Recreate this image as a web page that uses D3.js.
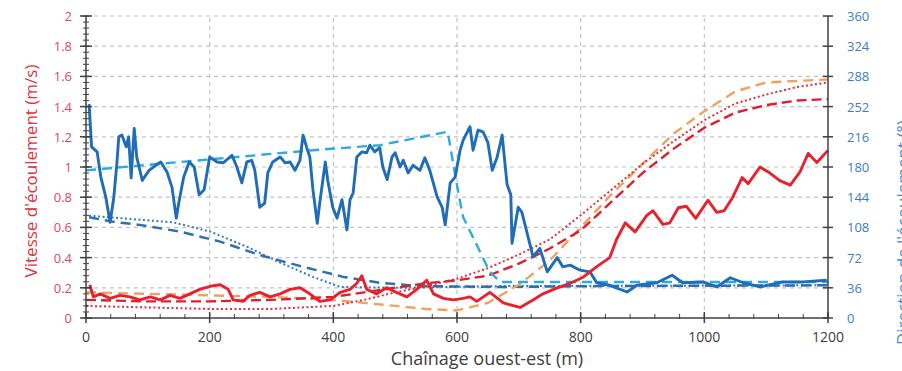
<!DOCTYPE html>
<html><head><meta charset="utf-8">
<script src="https://cdn.jsdelivr.net/npm/d3@7"></script>
<style>body{margin:0;background:#fff}svg{display:block}</style>
</head><body>
<svg id="c" width="902" height="371"></svg>
<script>
// ---- data ----
const xTicks = [0, 200, 400, 600, 800, 1000, 1200];
const yLeftTicks = [0, 0.2, 0.4, 0.6, 0.8, 1, 1.2, 1.4, 1.6, 1.8, 2];
const yRightTicks = [0, 36, 72, 108, 144, 180, 216, 252, 288, 324, 360];

// measured direction (deg, right axis)
const dirMeasX = [5,9,18,24,32,39,45,50,53,58,65,69,73,78,82,91,102,113,121,131,139,146,150,158,167,175,183,191,200,212,222,236,244,252,260,268,273,281,289,294,302,314,322,330,338,346,351,357,362,367,374,378,387,391,399,406,414,422,427,432,438,446,454,459,467,475,480,487,495,500,508,513,521,529,540,548,556,568,576,581,589,597,605,610,621,626,634,642,650,657,665,673,681,687,689,699,705,723,734,746,762,771,783,799,815,826,847,875,891,923,948,965,998,1020,1042,1063,1090,1127,1160,1198];
const dirMeasY = [255,204,198,168,144,114,144,185,216,218,204,216,167,226,192,164,176,182,186,174,156,119,137,168,186,180,147,153,192,186,185,194,180,161,186,188,176,132,137,173,186,192,185,186,176,188,218,203,192,153,113,137,186,164,132,119,141,105,141,149,192,198,197,206,198,203,180,165,192,197,180,188,173,182,176,191,176,144,132,111,161,168,200,212,228,200,224,222,209,176,192,218,159,147,89,132,126,73,83,55,72,61,63,57,55,42,39,31,39,42,51,42,43,37,48,42,37,43,43,45];

// modelled direction (deg, right axis)
const dirModelX = [0,367,475,585,592,602,610,630,653,670,1200];
const dirModelY = [176,200,206,222,192,150,120,90,55,43,43];
const dirDashX = [5,50,87,152,217,281,341,416,475,540,670,831,1200];
const dirDashY = [120,114,111,103,91,75,63,49,42,38,37,38,39];
const dirDotX = [5,141,201,260,314,367,411,508,670,1200];
const dirDotY = [122,114,103,85,66,49,37,36,38,39];

// measured velocity (m/s, left axis)
const velMeasX = [6,12,23,39,55,71,87,104,120,136,152,168,184,201,217,230,238,254,265,281,298,314,330,346,362,378,395,411,427,438,446,454,470,486,502,519,535,551,562,578,594,610,621,632,653,675,702,723,739,762,783,804,826,847,858,872,888,907,917,933,944,958,971,986,1006,1020,1032,1046,1061,1071,1090,1106,1122,1139,1155,1168,1182,1200];
const velMeasY = [0.22,0.14,0.16,0.13,0.15,0.14,0.12,0.14,0.12,0.15,0.13,0.16,0.19,0.21,0.22,0.19,0.12,0.11,0.15,0.17,0.14,0.16,0.19,0.20,0.16,0.11,0.12,0.17,0.19,0.23,0.28,0.19,0.16,0.20,0.17,0.14,0.19,0.25,0.16,0.13,0.12,0.13,0.14,0.11,0.17,0.10,0.07,0.12,0.16,0.20,0.23,0.27,0.34,0.40,0.52,0.63,0.57,0.68,0.71,0.62,0.63,0.73,0.74,0.66,0.78,0.70,0.71,0.80,0.93,0.89,1.00,0.96,0.91,0.88,0.97,1.09,1.03,1.11];

// modelled velocities (m/s, left axis)
const velModelX = [0,100,200,300,400,450,500,550,600,650,700,750,800,850,900,950,1000,1050,1100,1150,1200];
const velDashY = [0.12,0.11,0.11,0.12,0.14,0.17,0.20,0.23,0.25,0.28,0.36,0.46,0.58,0.77,0.96,1.12,1.26,1.36,1.41,1.44,1.45];
const velDotY  = [0.08,0.07,0.06,0.06,0.08,0.12,0.17,0.21,0.26,0.33,0.42,0.52,0.68,0.85,1.02,1.17,1.31,1.42,1.48,1.53,1.56];
const velOrangeY = [0.17,0.16,0.15,0.14,0.12,0.10,0.08,0.06,0.05,0.10,0.22,0.38,0.60,0.82,1.02,1.22,1.37,1.50,1.56,1.57,1.58];

// ---- chart ----
const svg = d3.select("#c");
const x = d3.scaleLinear().domain([0, 1200]).range([86, 828]);
const yL = d3.scaleLinear().domain([0, 2]).range([318, 16]);
const yR = d3.scaleLinear().domain([0, 360]).range([318, 16]);
const font = "'Open Sans', 'Liberation Sans', sans-serif";

// grid
const grid = svg.append("g");
grid.selectAll("line.h").data(yLeftTicks.filter(d => d > 0)).join("line")
  .attr("x1", x(0)).attr("x2", x(1200)).attr("y1", d => yL(d)).attr("y2", d => yL(d))
  .attr("stroke", "#c4c4c4").attr("stroke-width", 1.2).attr("stroke-dasharray", "4,4");
grid.selectAll("line.v").data(xTicks.filter(d => d > 0 && d < 1200)).join("line")
  .attr("x1", d => x(d)).attr("x2", d => x(d)).attr("y1", yL(0)).attr("y2", yL(2))
  .attr("stroke", "#c4c4c4").attr("stroke-width", 1.2).attr("stroke-dasharray", "4,4");

// lines
function drawLine(xs, ys, yScale, color, width, dash) {
  const pts = xs.map((d, i) => [d, ys[i]]);
  const line = d3.line().x(d => x(d[0])).y(d => yScale(d[1]));
  const p = svg.append("path").datum(pts).attr("d", line)
    .attr("fill", "none").attr("stroke", color).attr("stroke-width", width)
    .attr("stroke-linejoin", "round");
  if (dash) p.attr("stroke-dasharray", dash);
}
drawLine(dirDotX, dirDotY, yR, "#2f7cc4", 2, "2,2.5");
drawLine(dirDashX, dirDashY, yR, "#2e6fb0", 2.5, "10,6");
drawLine(velModelX, velOrangeY, yL, "#f0a060", 2.4, "10,6");
drawLine(velModelX, velDotY, yL, "#e0303a", 2, "2,2.5");
drawLine(velModelX, velDashY, yL, "#dd2030", 2.4, "10,5");
drawLine(dirModelX, dirModelY, yR, "#2eaadc", 2.4, "10,6");
drawLine(dirMeasX, dirMeasY, yR, "#1f6cb8", 2.9, null);
drawLine(velMeasX, velMeasY, yL, "#e8222c", 2.9, null);

// axes
const axisColor = "#404040";
const ax = svg.append("g");
ax.append("line").attr("x1", x(0)).attr("x2", x(0)).attr("y1", yL(0)).attr("y2", yL(2)).attr("stroke", axisColor).attr("stroke-width", 1.5);
ax.append("line").attr("x1", x(1200)).attr("x2", x(1200)).attr("y1", yL(0)).attr("y2", yL(2)).attr("stroke", axisColor).attr("stroke-width", 1.5);
ax.append("line").attr("x1", x(0)).attr("x2", x(1200)).attr("y1", yL(0)).attr("y2", yL(0)).attr("stroke", axisColor).attr("stroke-width", 1.5);

const leftMinor = d3.range(0, 2.0001, 0.04);
ax.selectAll("line.lm").data(leftMinor).join("line")
  .attr("x1", x(0) - 3).attr("x2", x(0) + 3).attr("y1", d => yL(d)).attr("y2", d => yL(d))
  .attr("stroke", axisColor).attr("stroke-width", 1);
ax.selectAll("line.lM").data(yLeftTicks).join("line")
  .attr("x1", x(0) - 6).attr("x2", x(0) + 6).attr("y1", d => yL(d)).attr("y2", d => yL(d))
  .attr("stroke", axisColor).attr("stroke-width", 1.5);
ax.selectAll("line.rM").data(yRightTicks).join("line")
  .attr("x1", x(1200) - 5).attr("x2", x(1200) + 5).attr("y1", d => yR(d)).attr("y2", d => yR(d))
  .attr("stroke", axisColor).attr("stroke-width", 1.5);
const bottomMinor = d3.range(0, 1200.001, 40);
ax.selectAll("line.bm").data(bottomMinor).join("line")
  .attr("x1", d => x(d)).attr("x2", d => x(d)).attr("y1", yL(0) - 4).attr("y2", yL(0) + 1)
  .attr("stroke", axisColor).attr("stroke-width", 1);
ax.selectAll("line.bM").data(xTicks).join("line")
  .attr("x1", d => x(d)).attr("x2", d => x(d)).attr("y1", yL(0) - 6).attr("y2", yL(0) + 5)
  .attr("stroke", axisColor).attr("stroke-width", 1.5);

// tick labels
const fmtL = d3.format("~g");
svg.selectAll("text.yl").data(yLeftTicks).join("text")
  .attr("x", 72).attr("y", d => yL(d) + 5).attr("text-anchor", "end")
  .attr("font-family", font).attr("font-size", 13).attr("fill", "#e0485a").text(d => fmtL(d));
svg.selectAll("text.yr").data(yRightTicks).join("text")
  .attr("x", 847).attr("y", d => yR(d) + 5).attr("text-anchor", "start")
  .attr("font-family", font).attr("font-size", 13).attr("fill", "#3c7ec6").text(d => d);
svg.selectAll("text.xb").data(xTicks).join("text")
  .attr("x", d => x(d)).attr("y", 342).attr("text-anchor", "middle")
  .attr("font-family", font).attr("font-size", 14).attr("fill", "#404040").text(d => d);

// axis titles
svg.append("text").attr("transform", "translate(37,171) rotate(-90)")
  .attr("text-anchor", "middle").attr("font-family", font).attr("font-size", 17)
  .attr("fill", "#e0303a").text("Vitesse d'écoulement (m/s)");
svg.append("text").attr("transform", "translate(909,345) rotate(-90)")
  .attr("text-anchor", "start").attr("font-family", font).attr("font-size", 17)
  .attr("fill", "#3c8ad0").text("Direction de l'écoulement (°)");
svg.append("text").attr("x", 487).attr("y", 365).attr("text-anchor", "middle")
  .attr("font-family", font).attr("font-size", 18).attr("fill", "#404040")
  .text("Chaînage ouest-est (m)");
</script>
</body></html>
